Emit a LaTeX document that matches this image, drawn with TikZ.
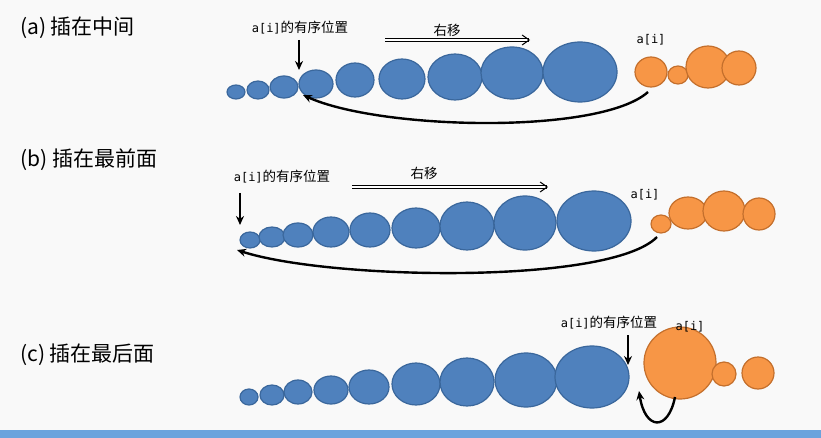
\documentclass[tikz,border=0pt]{standalone}
\usepackage{fontspec}
\setmainfont{Noto Sans CJK SC}
\setmonofont{DejaVu Sans Mono}
\usetikzlibrary{arrows.meta}
\definecolor{bl}{HTML}{4F81BD}\definecolor{blb}{HTML}{3A679C}
\definecolor{og}{HTML}{F79646}\definecolor{ogb}{HTML}{C46F2C}
\tikzset{b/.style={draw=blb,fill=bl,line width=1.2pt},
 o/.style={draw=ogb,fill=og,line width=1.2pt},
 lab/.style={font=\fontsize{13.5}{13.5}\selectfont,inner sep=0},
 ttl/.style={font=\fontsize{21}{21}\selectfont,anchor=west,inner sep=0},
 arr/.style={-{Stealth[length=9pt,width=8pt]},line width=2.4pt},
 dbl/.style={double,double distance=1.8pt,line width=1pt,-{Straight Barb[length=7pt,width=10pt]}}}
\newcommand{\ai}{{\ttfamily\fontsize{12}{12}\selectfont a[i]}}
\begin{document}
\begin{tikzpicture}[x=1pt,y=-1pt]
\fill[gray!5] (0,0) rectangle (821,438);
\useasboundingbox (0,0) rectangle (821,438);
\fill[cyan!60!blue!60] (0,430) rectangle (821,438);
% row a
\node[ttl] (ta) at (20,28) {(a)\ 插在中间};
\foreach \x/\y/\rx/\ry in {236/92/9/7,258/90/11/9,284/87/14/11,316/84/17/14,355/80/19/17,402/79/23/20,455/77/27/23,512/73/31/26,580/72/37/30}
  \path[b] (\x,\y) ellipse ({\rx} and {\ry});
\foreach \x/\y/\rx/\ry in {651/72/16/15,678/75/10/9,708/67/22/21,739/68/17/17}
  \path[o] (\x,\y) ellipse ({\rx} and {\ry});
\node[lab] (la) at (300,28) {\ai 的有序位置};
\coordinate (pa) at (299,70);
\draw[arr] (299,40) -- (pa);
\node[lab] (ra) at (447,30) {右移};
\draw[dbl] (385,40) -- (530,40);
\node[lab] (aa) at (651,40) {\ai};
\coordinate (sa) at (648,92); \coordinate (ea) at (303,95);
\draw[arr] (sa) .. controls (600,135) and (380,130) .. (ea);
% row b
\node[ttl] (tb) at (20,160) {(b)\ 插在最前面};
\foreach \x/\y/\rx/\ry in {250/240/10/8,272/237/13/10,298/235/15/12,331/232/18/15,370/230/20/17,416/228/24/20,467/226/27/24,525/223/31/27,594/221/37/30}
  \path[b] (\x,\y) ellipse ({\rx} and {\ry});
\foreach \x/\y/\rx/\ry in {661/224/10/9,688/213/19/16,724/211/21/20,759/214/16/16}
  \path[o] (\x,\y) ellipse ({\rx} and {\ry});
\node[lab] (lb) at (282,177) {\ai 的有序位置};
\coordinate (pb) at (240,225);
\draw[arr] (240,193) -- (pb);
\node[lab] (rb) at (424,173) {右移};
\draw[dbl] (352,187) -- (548,187);
\node[lab] (ab) at (645,195) {\ai};
\coordinate (sb) at (657,237); \coordinate (eb) at (237,250);
\draw[arr] (sb) .. controls (610,285) and (330,280) .. (eb);
% row c
\node[ttl] (tc) at (20,355) {(c)\ 插在最后面};
\foreach \x/\y/\rx/\ry in {249/397/9/8,272/395/12/10,298/392/14/12,331/390/17/14,369/387/20/17,416/384/24/21,467/382/27/24,526/380/31/27,592/377/37/31}
  \path[b] (\x,\y) ellipse ({\rx} and {\ry});
\foreach \x/\y/\rx/\ry in {680/363/36/36,724/374/12/12,758/373/16/16}
  \path[o] (\x,\y) ellipse ({\rx} and {\ry});
\node[lab] (lc) at (609,323) {\ai 的有序位置};
\coordinate (pc) at (628,365);
\draw[arr] (628,335) -- (pc);
\node[lab] (ac) at (690,327) {\ai};
\coordinate (sc) at (675,397); \coordinate (ec) at (639,391);
\draw[arr] (sc) .. controls (668,432) and (645,430) .. (ec);
\end{tikzpicture}
\end{document}
